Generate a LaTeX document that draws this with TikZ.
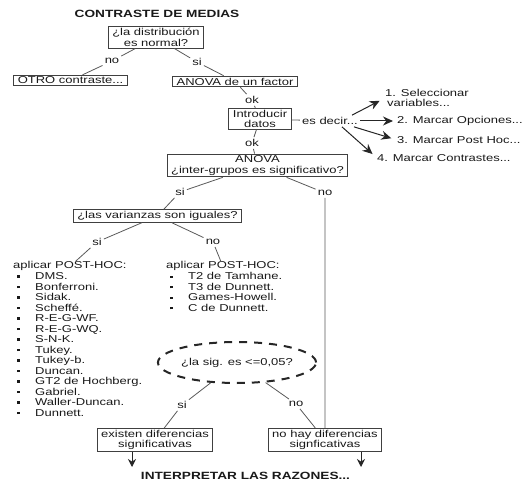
\documentclass[tikz,border=0pt]{standalone}
\usepackage{fontspec}
\setmainfont{Liberation Sans}[FakeStretch=1.3]
\usetikzlibrary{arrows.meta,shapes.geometric,positioning}

\newcommand{\blt}{\hspace*{4pt}\makebox[18pt][l]{\rule[2pt]{2.4pt}{2.4pt}}}

\begin{document}
\begin{tikzpicture}[
        x=1pt, y=-1pt,
        every node/.style={font={\fontsize{10}{10.5}\selectfont}, text=black!90},
        caja/.style={draw=black!75, line width=1pt, inner xsep=4pt, inner ysep=1.6pt, align=center},
        lbl/.style={inner sep=2pt},
        txt/.style={inner sep=0pt, align=left},
        tit/.style={font={\fontsize{10.5}{12}\selectfont\bfseries}},
        linea/.style={draw=black!65, line width=0.8pt},
        flecha/.style={draw=black!85, line width=1pt, -{Stealth[length=10pt,width=9pt]}, shorten >=6pt},
        baja/.style={draw=black!85, line width=1pt, -{Stealth[length=8pt,width=8pt]}}
    ]
        \useasboundingbox (0,0) rectangle (528,481);

        \node[tit] (titulo) at (157,14) {CONTRASTE DE MEDIAS};
        \node[caja] (normal) at (156,37.5) {¿la distribución\\es normal?};
        \node[lbl] (no1) at (112,61) {no};
        \node[lbl] (si1) at (197,62) {si};
        \node[caja] (otro) at (70.5,80.5) {OTRO contraste...};
        \node[caja] (factor) at (235,81.5) {ANOVA de un factor};
        \node[lbl] (ok1) at (252,100) {ok};
        \node[caja] (datos) at (260,119) {Introducir\\datos};
        \node[lbl] (esdecir) at (330,121) {es decir...};
        \node[txt, anchor=west] (sel) at (385,98) {1. Seleccionar\\\hspace*{2pt}variables...};
        \node[txt, anchor=west] (opc) at (397,121) {2. Marcar Opciones...};
        \node[txt, anchor=west] (post) at (397,140) {3. Marcar Post Hoc...};
        \node[txt, anchor=west] (contr) at (377,158) {4. Marcar Contrastes...};
        \node[lbl] (ok2) at (252,143) {ok};
        \node[caja] (anova) at (257.5,165.5) {ANOVA\\¿inter-grupos es significativo?};
        \node[lbl] (si2) at (180,192) {si};
        \node[lbl] (no2) at (325,193) {no};
        \node[caja] (var) at (157.5,216) {¿las varianzas son iguales?};
        \node[lbl] (si3) at (97,242) {si};
        \node[lbl] (no3) at (213,242) {no};

        \node[txt, anchor=base west] (hl) at (13,269) {aplicar POST-HOC:};
        \node[txt, anchor=north west] (ll) at (13,272.5) {\blt DMS.\\\blt Bonferroni.\\\blt Sidak.\\\blt Scheffé.\\\blt R-E-G-WF.\\\blt R-E-G-WQ.\\\blt S-N-K.\\\blt Tukey.\\\blt Tukey-b.\\\blt Duncan.\\\blt GT2 de Hochberg.\\\blt Gabriel.\\\blt Waller-Duncan.\\\blt Dunnett.};
        \node[txt, anchor=base west] (hr) at (166,269) {aplicar POST-HOC:};
        \node[txt, anchor=north west] (lr) at (166,272.5) {\blt T2 de Tamhane.\\\blt T3 de Dunnett.\\\blt Games-Howell.\\\blt C de Dunnett.};

        \node[ellipse, draw=black!85, line width=2pt, dash pattern=on 8pt off 7pt, minimum width=140pt, minimum height=41pt, inner sep=0pt] (sig) at (237,362.5) {¿la sig. es <=0,05?};
        \node[lbl] (si4) at (182,405) {si};
        \node[lbl] (no4) at (296,404) {no};
        \node[caja] (exist) at (155,440) {existen diferencias\\significativas};
        \node[caja] (nohay) at (325,440) {no hay diferencias\\signficativas};
        \node[tit] (fin) at (245.5,476) {INTERPRETAR LAS RAZONES...};
        \coordinate (f1) at (132,467);
        \coordinate (f2) at (361,467);

        \draw[linea] (normal) -- (no1) -- (otro);
        \draw[linea] (normal) -- (si1) -- (factor);
        \draw[linea] (factor) -- (ok1) -- (datos);
        \draw[linea] (datos) -- (ok2) -- (anova);
        \draw[linea] (datos) -- (esdecir);
        \draw[flecha] ([xshift=-8pt]esdecir.north east) -- (sel.west);
        \draw[flecha, shorten >=4pt] (esdecir.east) -- (opc.west);
        \draw[flecha] ([xshift=-6pt]esdecir.south east) -- (post.west);
        \draw[flecha] ([xshift=12pt]esdecir.south) -- (contr.west);
        \draw[linea] (anova) -- (si2) -- (var);
        \draw[linea] (anova) -- (no2) -- (nohay);
        \draw[linea] (var) -- (si3) -- (hl);
        \draw[linea] (var) -- (no3) -- (hr);
        \draw[linea] (sig) -- (si4) -- (exist);
        \draw[linea] (sig) -- (no4) -- (nohay);
        \draw[baja] (exist.south -| f1) -- (f1);
        \draw[baja] (nohay.south -| f2) -- (f2);
    \end{tikzpicture}
\end{document}
